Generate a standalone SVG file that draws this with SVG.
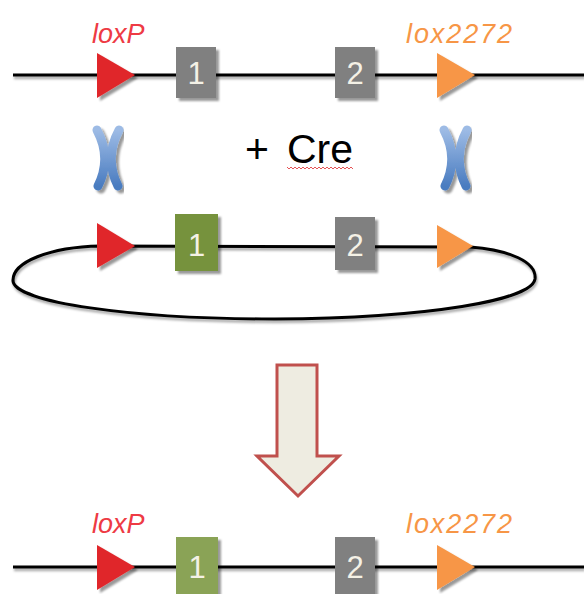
<svg xmlns="http://www.w3.org/2000/svg" width="584" height="594" viewBox="0 0 584 594">
  <defs>
    <filter id="shadow" x="-20%" y="-20%" width="140%" height="140%">
      <feDropShadow dx="3" dy="3" stdDeviation="1" flood-color="#000" flood-opacity="0.4"/>
    </filter>
    <filter id="lineShadow" x="-5%" y="-20%" width="110%" height="140%">
      <feDropShadow dx="1" dy="2.5" stdDeviation="1" flood-color="#000" flood-opacity="0.35"/>
    </filter>
    <linearGradient id="chromo" x1="0" y1="0" x2="0" y2="1">
      <stop offset="0" stop-color="#9dbbe5"/>
      <stop offset="1" stop-color="#4a7cc0"/>
    </linearGradient>
    <style>
      .dna { fill: none; stroke: #000; stroke-width: 3; }
      .loxp { fill: #e0282b; }
      .lox2272 { fill: #f79646; }
      .exon-gray { fill: #808080; }
      .exon-green-dark { fill: #76923c; }
      .exon-green-light { fill: #8aa356; }
      .exon-text { font-family: "Liberation Sans", Arial, sans-serif; font-size: 31px; fill: #f4f1e6; text-anchor: middle; }
      .site-label { font-family: "Liberation Sans", Arial, sans-serif; font-size: 27px; font-style: italic; }
      .red-label { fill: #ee3a44; }
      .orange-label { fill: #f79646; }
      .chromo { fill: none; stroke: url(#chromo); stroke-width: 9; stroke-linecap: round; stroke-linejoin: round; }
      .cre { font-family: "Liberation Sans", Arial, sans-serif; font-size: 41px; fill: #000; }
    </style>
  </defs>
  <rect width="584" height="594" fill="#fff"/>

  <!-- backbones -->
  <g id="connectors" filter="url(#lineShadow)">
    <line class="dna" x1="13" y1="75" x2="584" y2="75"/>
    <path class="dna" d="M100,246 L470,247 C510,250 537,262 535,279 C532,300 430,318 275,319 C130,319 15,302 13,281 C12,262 50,247 100,246 Z"/>
    <line class="dna" x1="13" y1="567" x2="584" y2="567"/>
  </g>

  <!-- top construct -->
  <g id="top-loxP">
    <text class="site-label red-label" x="92" y="43">loxP</text>
    <polygon class="loxp" filter="url(#shadow)" points="97,53 135,75 97,98"/>
  </g>
  <g id="top-exon1">
    <rect class="exon-gray" filter="url(#shadow)" x="176" y="47" width="40" height="51"/>
    <text class="exon-text" x="196" y="84">1</text>
  </g>
  <g id="top-exon2">
    <rect class="exon-gray" filter="url(#shadow)" x="335" y="47" width="40" height="51"/>
    <text class="exon-text" x="355" y="84">2</text>
  </g>
  <g id="top-lox2272">
    <text class="site-label orange-label" x="406" y="43" textLength="106">lox2272</text>
    <polygon class="lox2272" filter="url(#shadow)" points="437,53 475,75 437,98"/>
  </g>

  <!-- recombination crossovers and Cre -->
  <g id="cross-left" filter="url(#shadow)">
    <path class="chromo" d="M97,130 Q112,158 98,186 M119,130 Q104,158 118,186"/>
  </g>
  <g id="cross-right" filter="url(#shadow)">
    <path class="chromo" d="M444,130 Q459,158 445,186 M467,130 Q452,158 466,186"/>
  </g>
  <g id="cre">
    <text class="cre" x="245" y="163">+<tspan x="287">Cre</tspan></text>
    <path d="M287,167 l2,2 l2,-2 l2,2 l2,-2 l2,2 l2,-2 l2,2 l2,-2 l2,2 l2,-2 l2,2 l2,-2 l2,2 l2,-2 l2,2 l2,-2 l2,2 l2,-2 l2,2 l2,-2 l2,2 l2,-2 l2,2 l2,-2 l2,2 l2,-2 l2,2 l2,-2 l2,2 l2,-2 l2,2 l2,-2 l2,2" fill="none" stroke="#e0282b" stroke-width="0.8"/>
  </g>

  <!-- circular donor -->
  <g id="mid-loxP">
    <polygon class="loxp" filter="url(#shadow)" points="97,223 135,246 97,268"/>
  </g>
  <g id="mid-exon1">
    <rect class="exon-green-dark" filter="url(#shadow)" x="175" y="214" width="43" height="57"/>
    <text class="exon-text" x="196.5" y="256">1</text>
  </g>
  <g id="mid-exon2">
    <rect class="exon-gray" filter="url(#shadow)" x="335" y="217" width="40" height="53"/>
    <text class="exon-text" x="355" y="256">2</text>
  </g>
  <g id="mid-lox2272">
    <polygon class="lox2272" filter="url(#shadow)" points="437,225 473,246 437,268"/>
  </g>

  <!-- block arrow -->
  <g id="arrow">
    <polygon points="277,365 317,365 317,456 339,456 298,496 257,456 277,456" fill="#eeece1" stroke="#c0504d" stroke-width="3" stroke-linejoin="miter"/>
  </g>

  <!-- recombined product -->
  <g id="bottom-loxP">
    <text class="site-label red-label" x="92" y="533">loxP</text>
    <polygon class="loxp" filter="url(#shadow)" points="97,545 135,567 97,590"/>
  </g>
  <g id="bottom-exon1">
    <rect class="exon-green-light" filter="url(#shadow)" x="176" y="537" width="42" height="60"/>
    <text class="exon-text" x="197" y="578">1</text>
  </g>
  <g id="bottom-exon2">
    <rect class="exon-gray" filter="url(#shadow)" x="335" y="537" width="40" height="60"/>
    <text class="exon-text" x="355" y="578">2</text>
  </g>
  <g id="bottom-lox2272">
    <text class="site-label orange-label" x="406" y="533" textLength="106">lox2272</text>
    <polygon class="lox2272" filter="url(#shadow)" points="437,545 475,567 437,590"/>
  </g>
</svg>
